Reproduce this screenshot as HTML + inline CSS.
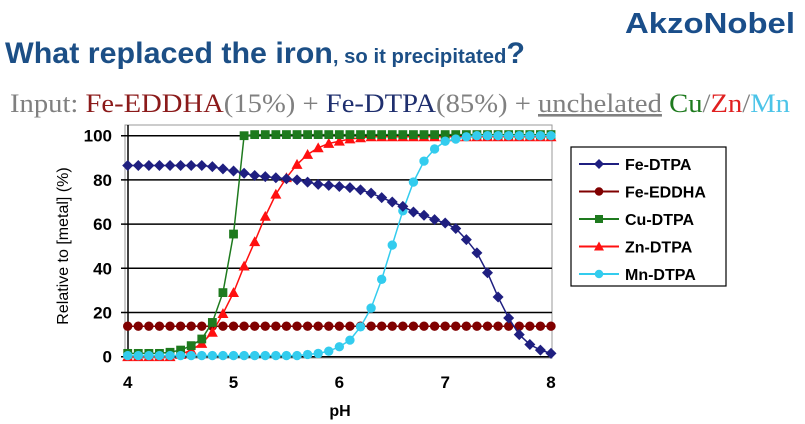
<!DOCTYPE html>
<html><head><meta charset="utf-8"><style>
body{margin:0;background:#fff;}
svg{display:block;}
</style></head><body>
<svg id="s" width="805" height="424" xmlns="http://www.w3.org/2000/svg" font-family="Liberation Sans, Arial, sans-serif">
<text x="795" y="33" text-anchor="end" font-size="29" font-weight="bold" fill="#1a4e8a" textLength="170" lengthAdjust="spacingAndGlyphs">AkzoNobel</text>
<text x="5" y="63" font-weight="bold" fill="#1c4f86" textLength="520" lengthAdjust="spacingAndGlyphs"><tspan font-size="30">What replaced the iron</tspan><tspan font-size="20">, so it precipitated</tspan><tspan font-size="30">?</tspan></text>
<text x="10" y="112" font-family="Liberation Serif, serif" font-size="26" fill="#808080" textLength="780" lengthAdjust="spacingAndGlyphs">Input: <tspan fill="#8b1a1a">Fe-EDDHA</tspan>(15%) + <tspan fill="#1f2f6e">Fe-DTPA</tspan>(85%) + <tspan text-decoration="underline">unchelated</tspan> <tspan fill="#1e7a1e">Cu</tspan>/<tspan fill="#e02020">Zn</tspan>/<tspan fill="#4cc4e8">Mn</tspan></text>
<rect x="125" y="125" width="427" height="233" fill="none" stroke="#999" stroke-width="1"/>
<g id="grid"></g>
<g id="series"></g>
<text x="340" y="416" text-anchor="middle" font-size="16" font-weight="bold">pH</text>
<text transform="translate(68,246) rotate(-90)" text-anchor="middle" font-size="16" fill="#000">Relative to [metal] (%)</text>
<rect x="571" y="147" width="155" height="139" fill="#fff" stroke="#000" stroke-width="1.2"/>
<g id="leg"></g>
</svg>
<script>
const NS="http://www.w3.org/2000/svg";
function el(p,t,a,txt){const e=document.createElementNS(NS,t);for(const k in a)e.setAttribute(k,a[k]);if(txt!==undefined)e.textContent=txt;p.appendChild(e);return e;}
const X=v=>127.7+(v-4)*(551-127.7)/4, Y=v=>356.7-v*(356.7-135.7)/100;
const g=document.getElementById('grid');
for(let v=0;v<=100;v+=20){const y=Y(v);el(g,'line',{x1:121,x2:552,y1:y,y2:y,stroke:'#000','stroke-width':1.5});
el(g,'text',{x:112,y:y+6,'text-anchor':'end','font-size':17,'font-weight':'bold'},v);}
el(g,'line',{x1:128,x2:128,y1:125,y2:358,stroke:'#000','stroke-width':1.5});
for(let p=4;p<=8;p++)el(g,'text',{x:X(p),y:388,'text-anchor':'middle','font-size':17,'font-weight':'bold'},p);
const fe=[86.5,86.5,86.5,86.5,86.5,86.5,86.5,86.5,86,85,84,83,82,81.5,81,80.5,80,79,78,77.5,77,76.5,75.5,74,72,70,68,65.5,64,62,60.5,58,53,47,38,27,17.5,10,5.5,3,1.5];
const cu=[1.5,1.5,1.5,1.5,2,3,5,8,15.5,29,55.5,100];while(cu.length<41)cu.push(100.5);
const zn=[0,0,0,0,0,1,3,6,11,19.5,29,41,52,63.5,73.5,81,87,91.5,94.5,96.5,97.5,98.5,99];while(zn.length<41)zn.push(99.5);
const mn=[];for(let i=0;i<17;i++)mn.push(0.5);mn.push(1,1.5,2.5,4.5,7.5,13.5,22,35,50.5,66,79,88.5,94,97.5,98.5,99.5);while(mn.length<41)mn.push(100);
const ed=[];for(let i=0;i<41;i++)ed.push(13.8);
const S=[{d:fe,c:'#1f1f80',m:'d',n:'Fe-DTPA'},{d:ed,c:'#800000',m:'c',n:'Fe-EDDHA'},{d:cu,c:'#1e7a1e',m:'s',n:'Cu-DTPA'},{d:zn,c:'#ff1010',m:'t',n:'Zn-DTPA'},{d:mn,c:'#33ccee',m:'c',n:'Mn-DTPA'}];
function mark(p,m,x,y,c,s){
 if(m=='d')el(p,'polygon',{points:`${x},${y-s} ${x+s},${y} ${x},${y+s} ${x-s},${y}`,fill:c});
 else if(m=='c')el(p,'circle',{cx:x,cy:y,r:s*0.85,fill:c});
 else if(m=='s')el(p,'rect',{x:x-s*0.8,y:y-s*0.8,width:s*1.6,height:s*1.6,fill:c});
 else el(p,'polygon',{points:`${x},${y-s} ${x+s},${y+s*0.8} ${x-s},${y+s*0.8}`,fill:c});
}
const sg=document.getElementById('series');
const order=[1,3,2,4,0];
for(const i of order){const s=S[i];const pts=s.d.map((v,k)=>[X(4+k*0.1),Y(v)]);
 el(sg,'polyline',{points:pts.map(p=>p.join(',')).join(' '),fill:'none',stroke:s.c,'stroke-width':1.5});
 pts.forEach(p=>mark(sg,s.m,p[0],p[1],s.c,5.5));}
const lg=document.getElementById('leg');
S.forEach((s,i)=>{const y=164+i*27.5;el(lg,'line',{x1:579,x2:619,y1:y,y2:y,stroke:s.c,'stroke-width':2});mark(lg,s.m,599,y,s.c,5);
 el(lg,'text',{x:625,y:y+6,'font-size':16,'font-weight':'bold'},s.n);});
</script>
</body></html>
